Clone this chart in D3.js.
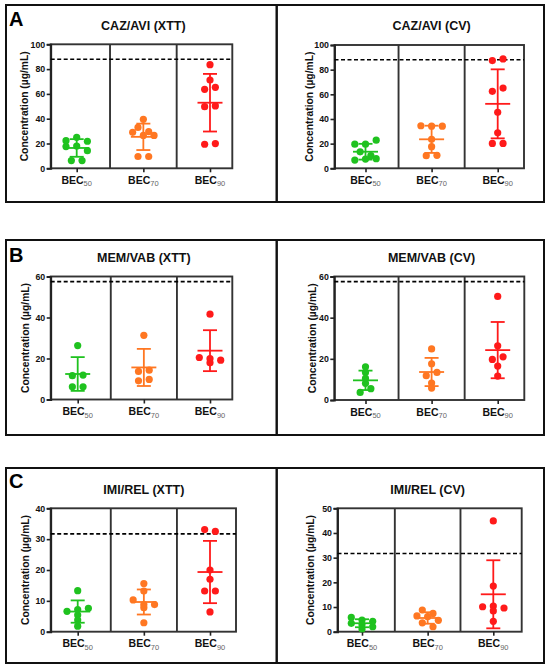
<!DOCTYPE html>
<html>
<head>
<meta charset="utf-8">
<script src="https://cdn.jsdelivr.net/npm/d3@7"></script>
<style>
body { margin: 0; background: #fff; }
svg { display: block; }
text { font-family: "Liberation Sans", Arial, sans-serif; font-weight: bold; }
</style>
</head>
<body>
<svg width="550" height="670"></svg>
<script>
var svg = d3.select('svg');

// data
var groups = ['50', '70', '90'];
var titles = ['CAZ/AVI (XTT)', 'CAZ/AVI (CV)', 'MEM/VAB (XTT)', 'MEM/VAB (CV)', 'IMI/REL (XTT)', 'IMI/REL (CV)'];
var letters = ['A', '', 'B', '', 'C', ''];
var yMax = [100, 100, 60, 60, 40, 50];
var yStep = [20, 20, 20, 20, 10, 10];
var cutoff = [88, 88, 57.5, 57.5, 31.7, 31.7];

var cazAviXtt = [
    [22.3, 25, 21.8, 17.5, 18, 14.2, 6.2, 6.2],
    [39.5, 33, 29.5, 29, 26.5, 26.5, 9.5, 9.5],
    [83.6, 71.2, 63.7, 65.3, 49.7, 50.3, 19.4, 19.9]
];
var cazAviCv = [
    [19.6, 19.6, 22.8, 13.4, 10.2, 6.7, 7.5, 7.8],
    [34.5, 34.2, 34.2, 23.5, 17.5, 10.2, 10.5],
    [87.4, 88.7, 62.4, 65.1, 45.4, 28.8, 20.2, 20.2]
];
var memVabXtt = [
    [26.3, 11.6, 11.9, 6.2, 6.2],
    [31.3, 13.7, 14.3, 9.1, 9.8],
    [41.6, 20.5, 17.9, 19.9, 19.2]
];
var memVabCv = [
    [16.1, 13.4, 10.5, 8.1, 3.7, 5.5],
    [24.8, 17.6, 11.8, 13.4, 8.2, 5.8],
    [50.3, 26.3, 19.7, 21.0, 16.5, 11.6]
];
var imiRelXtt = [
    [13.3, 6.6, 7.2, 7.6, 5.4, 3.8, 1.8],
    [15.6, 13.2, 10.3, 8.8, 8.8, 7.8, 2.9],
    [33.1, 32.5, 20.0, 17.0, 13.2, 13.2, 6.4]
];
var imiRelCv = [
    [5.8, 4.7, 4.2, 3.4, 2.8, 2.0, 1.1],
    [8.8, 7.4, 6.4, 6.1, 4.6, 3.6, 2.0],
    [44.9, 18.5, 10.1, 10.4, 9.6, 8.4, 4.2]
];
var panelData = [cazAviXtt, cazAviCv, memVabXtt, memVabCv, imiRelXtt, imiRelCv];

var colors = ['#1fc21f', '#ff7722', '#ff1a1a'];

// where each panel sits
var layout = [
    {box: [6, 5, 276.7, 202], x0: 50.7, x1: 232.3, y0: 44.3, y1: 168.3, c: [76.7, 210], ylab: 24.5, ty: 29.5, ly: 26},
    {box: [276.7, 5, 544, 202], x0: 334.5, x1: 524, y0: 45, y1: 168.3, c: [365.5, 497.7], ylab: 309, ty: 29.5},
    {box: [6, 240, 276.7, 435], x0: 50.7, x1: 232.3, y0: 276.5, y1: 399.5, c: [77.7, 210], ylab: 25.3, ty: 261.5, ly: 262},
    {box: [276.7, 240, 544, 435], x0: 334.3, x1: 524.3, y0: 276.5, y1: 400, c: [365.5, 497.7], ylab: 312, ty: 261.5},
    {box: [6, 468, 276.7, 663], x0: 50.7, x1: 236, y0: 508.3, y1: 631.7, c: [77.7, 210], ylab: 25, ty: 493.5, ly: 488},
    {box: [276.7, 468, 544, 663], x0: 337.5, x1: 521.7, y0: 508.3, y1: 631.7, c: [362, 493.3], ylab: 310.3, ty: 493.5}
];

// GraphPad-like scatter: points close in y go into one row, centered
function spread(vals, y, cx) {
    var idx = vals.map(function (v, i) { return i; })
        .sort(function (a, b) { return vals[b] - vals[a]; });
    var out = [], grp = [], start = 0;
    function flush() {
        grp.sort(function (a, b) { return a - b; });
        grp.forEach(function (k, j) {
            out.push({v: vals[k], x: cx + (j - (grp.length - 1) / 2) * 10.7});
        });
        grp = [];
    }
    idx.forEach(function (k) {
        var py = y(vals[k]);
        if (grp.length && py - start > 4.8) flush();
        if (!grp.length) start = py;
        grp.push(k);
    });
    flush();
    return out;
}

layout.forEach(function (p, i) {
    var g = svg.append('g');
    var data = panelData[i];

    g.append('rect')
        .attr('x', p.box[0]).attr('y', p.box[1])
        .attr('width', p.box[2] - p.box[0]).attr('height', p.box[3] - p.box[1])
        .attr('fill', 'none').attr('stroke', '#111').attr('stroke-width', 2);

    var x = d3.scalePoint().domain(groups).range(p.c);
    var y = d3.scaleLinear().domain([0, yMax[i]]).range([p.y1, p.y0]);

    // frame + dividers
    g.append('rect')
        .attr('x', p.x0).attr('y', p.y0)
        .attr('width', p.x1 - p.x0).attr('height', p.y1 - p.y0)
        .attr('fill', 'none').attr('stroke', '#333').attr('stroke-width', 1.9);
    [0, 1].forEach(function (k) {
        var xm = (x(groups[k]) + x(groups[k + 1])) / 2;
        g.append('line')
            .attr('x1', xm).attr('x2', xm).attr('y1', p.y0).attr('y2', p.y1)
            .attr('stroke', '#333').attr('stroke-width', 1.9);
    });

    var yAxis = g.append('g')
        .attr('transform', 'translate(' + p.x0 + ',0)')
        .call(d3.axisLeft(y).tickValues(d3.range(0, yMax[i] + 1, yStep[i])).tickSize(4).tickPadding(1.5));
    yAxis.select('.domain').attr('stroke', '#222').attr('stroke-width', 1.9);
    yAxis.selectAll('.tick line').attr('stroke', '#222').attr('stroke-width', 1.6);
    yAxis.selectAll('text').attr('font-size', 8.8).attr('fill', '#111')
        .style('font-family', '"Liberation Sans", Arial, sans-serif').style('font-weight', 'bold');

    var xAxis = g.append('g')
        .attr('transform', 'translate(0,' + p.y1 + ')')
        .call(d3.axisBottom(x).tickSize(4).tickFormat(''));
    xAxis.select('.domain').remove();
    xAxis.selectAll('.tick line').attr('stroke', '#222').attr('stroke-width', 1.6);

    groups.forEach(function (grp) {
        var t = g.append('text')
            .attr('x', x(grp)).attr('y', p.y1 + 15.5)
            .attr('text-anchor', 'middle').attr('font-size', 10.5).attr('fill', '#111');
        t.append('tspan').text('BEC');
        t.append('tspan').attr('dy', 2.5).attr('font-size', 7.5).attr('fill', '#666')
            .style('font-weight', 'normal').text(grp);
    });

    // dashed cutoff
    g.append('line')
        .attr('x1', p.x0).attr('x2', p.x1)
        .attr('y1', y(cutoff[i])).attr('y2', y(cutoff[i]))
        .attr('stroke', '#000').attr('stroke-width', 1.6).attr('stroke-dasharray', '4,2.5');

    g.append('text')
        .attr('transform', 'translate(' + p.ylab + ',' + (p.y0 + p.y1) / 2 + ') rotate(-90)')
        .attr('text-anchor', 'middle').attr('dominant-baseline', 'central')
        .attr('font-size', 10.3).attr('fill', '#111')
        .text('Concentration (\u00b5g/mL)');

    g.append('text')
        .attr('x', x(groups[1])).attr('y', p.ty)
        .attr('text-anchor', 'middle').attr('font-size', 12.5).attr('fill', '#111')
        .text(titles[i]);

    if (letters[i]) {
        g.append('text')
            .attr('x', 9).attr('y', p.ly)
            .attr('font-size', 20).attr('fill', '#000')
            .text(letters[i]);
    }

    data.forEach(function (vals, k) {
        var col = colors[k];
        var cx = x(groups[k]);
        var pts = spread(vals, y, cx);
        g.selectAll('circle.g' + k)
            .data(pts)
            .enter()
            .append('circle')
            .attr('cx', function (d) { return d.x; })
            .attr('cy', function (d) { return y(d.v); })
            .attr('r', 3.6)
            .attr('fill', col);

        var m = d3.mean(vals), sd = d3.deviation(vals);
        var bars = [
            [cx, y(m - sd), cx, y(m + sd)],
            [cx - 12.5, y(m), cx + 12.5, y(m)],
            [cx - 7, y(m + sd), cx + 7, y(m + sd)],
            [cx - 7, y(m - sd), cx + 7, y(m - sd)]
        ];
        g.selectAll('line.e' + k)
            .data(bars)
            .enter()
            .append('line')
            .attr('x1', function (d) { return d[0]; })
            .attr('y1', function (d) { return d[1]; })
            .attr('x2', function (d) { return d[2]; })
            .attr('y2', function (d) { return d[3]; })
            .attr('stroke', col)
            .attr('stroke-width', 1.8);
    });
});
</script>
</body>
</html>
